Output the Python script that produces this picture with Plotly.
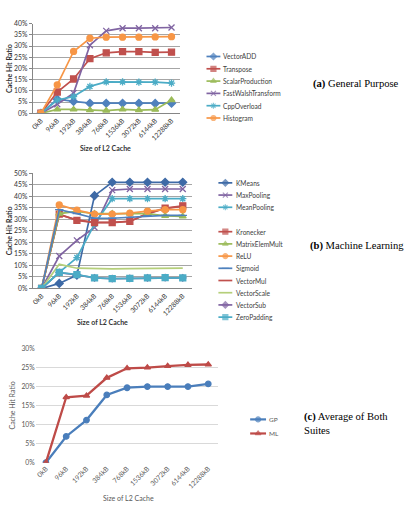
import plotly.graph_objects as go

W, H = 406, 510
def fx(x): return x / W
def fy(y): return 1 - y / H

# ---------------- data ----------------
cache_sizes = ["0kB", "96kB", "192kB", "384kB", "768kB", "1536kB", "3072kB", "6144kB", "12288kB"]

# (a) General purpose (%)
gp_names = ["VectorADD", "Transpose", "ScalarProduction", "FastWalshTransform", "CppOverload", "Histogram"]
vector_add = [0, 6.3, 5.3, 4.5, 4.5, 4.5, 4.5, 4.4, 4.5]
transpose = [0, 9.5, 15.3, 24.4, 27.0, 27.5, 27.5, 27.2, 27.3]
scalar_production = [0, 1.7, 1.7, 1.4, 1.2, 1.7, 1.4, 1.6, 5.9]
fast_walsh = [0, 4.0, 9.0, 30.4, 36.8, 38.0, 38.0, 38.0, 38.3]
cpp_overload = [0, 5.9, 7.5, 12.0, 14.0, 14.0, 13.9, 13.9, 13.5]
histogram = [0, 12.7, 27.6, 33.5, 34.0, 34.0, 34.0, 34.1, 34.2]
gp_values = [vector_add, transpose, scalar_production, fast_walsh, cpp_overload, histogram]

# (b) Machine learning (%)
ml_names = ["KMeans", "MaxPooling", "MeanPooling", "", "Kronecker", "MatrixElemMult", "ReLU",
            "Sigmoid", "VectorMul", "VectorScale", "VectorSub", "ZeroPadding"]
kmeans = [0, 2.2, 5.8, 40.3, 46.1, 46.1, 46.1, 46.1, 46.1]
max_pooling = [0, 14.1, 20.9, 26.5, 42.7, 43.2, 43.2, 43.2, 43.2]
mean_pooling = [0, 7.0, 13.4, 28.0, 39.0, 39.0, 39.0, 39.0, 39.0]
kronecker = [0, 32.3, 29.6, 28.6, 28.6, 29.1, 32.6, 34.9, 35.9]
matrix_elem_mult = [0, 32.5, 33.5, 32.5, 32.5, 32.5, 32.5, 31.5, 31.3]
relu = [0, 36.3, 34.0, 32.3, 32.3, 32.7, 33.6, 34.2, 34.2]
sigmoid = [0, 34.2, 32.5, 30.5, 30.5, 30.9, 31.6, 31.7, 31.7]
vector_mul = [0, 32.0, 29.8, 28.7, 28.7, 29.2, 32.4, 34.7, 35.7]
vector_scale = [0, 10.5, 8.8, 8.5, 8.5, 8.6, 8.7, 8.8, 8.8]
vector_sub = [0, 6.9, 5.9, 4.6, 4.3, 4.4, 4.6, 4.7, 4.6]
zero_padding = [0, 7.0, 6.0, 4.6, 4.3, 4.4, 4.6, 4.7, 4.6]
ml_values = [kmeans, max_pooling, mean_pooling, None, kronecker, matrix_elem_mult, relu,
             sigmoid, vector_mul, vector_scale, vector_sub, zero_padding]

# (c) Averages (%)
avg_names = ["GP", "ML"]
avg_gp = [0, 6.9, 11.2, 17.8, 19.7, 20.0, 20.0, 20.0, 20.7]
avg_ml = [0, 17.2, 17.6, 22.3, 24.8, 25.0, 25.4, 25.7, 25.8]
avg_values = [avg_gp, avg_ml]

# ---------------- styles ----------------
gp_colors = ["#4F81BD", "#C0504D", "#9BBB59", "#8064A2", "#4BACC6", "#F79646"]
gp_symbols = ["diamond", "square", "triangle-up", "x-thin-open", "asterisk-open", "circle"]

ml_colors = ["#3E6AA6", "#8064A2", "#4BACC6", None, "#C0504D", "#9BBB59", "#F79646",
             "#4F81BD", "#C0504D", "#B5CF7A", "#8064A2", "#4BACC6"]
ml_symbols = ["diamond", "x-thin-open", "asterisk-open", None, "square", "triangle-up", "circle",
              "line-ew-open", None, None, "diamond", "square"]
ml_draw_order = [10, 8, 0, 1, 2, 4, 5, 6, 7, 9, 11]

avg_colors = ["#4A7EBB", "#BE4B48"]
avg_symbols = ["circle", "triangle-up"]

fig = go.Figure()

def add_series(xa, ya, name, vals, color, symbol, width=1.7, msize=6):
    mode = "lines+markers" if symbol else "lines"
    m = dict(color=color, size=msize, symbol=symbol or "circle",
             line=dict(color=color, width=1.3))
    fig.add_trace(go.Scatter(x=cache_sizes, y=vals, name=name, mode=mode,
                             xaxis=xa, yaxis=ya, showlegend=False,
                             line=dict(color=color, width=width), marker=m))

for n, v, c, s in zip(gp_names, gp_values, gp_colors, gp_symbols):
    add_series("x", "y", n, v, c, s)
for i in ml_draw_order:
    add_series("x2", "y2", ml_names[i], ml_values[i], ml_colors[i], ml_symbols[i],
               msize=5 if i == 10 else 6)
for n, v, c, s in zip(avg_names, avg_values, avg_colors, avg_symbols):
    add_series("x3", "y3", n, v, c, s, width=2.3, msize=5.5)

# ---------------- custom legends (drawn on overlay pixel axes) ----------------
shapes = []
annotations = []

def draw_legend(names, colors, symbols, x0, y0, dy, keylen, textx, fsize, tcolor, lw):
    mx, my, mc, ms, msz = [], [], [], [], []
    for i, (n, c, s) in enumerate(zip(names, colors, symbols)):
        if not n:
            continue
        y = y0 + i * dy
        shapes.append(dict(type="line", xref="x4", yref="y4", x0=x0, x1=x0 + keylen,
                           y0=y, y1=y, line=dict(color=c, width=lw)))
        if s:
            mx.append(x0 + keylen / 2); my.append(y); mc.append(c); ms.append(s); msz.append(5)
        annotations.append(dict(xref="x4", yref="y4", x=textx, y=y, text=n, showarrow=False,
                                xanchor="left", yanchor="middle",
                                font=dict(family="Lato", size=fsize, color=tcolor)))
    fig.add_trace(go.Scatter(x=mx, y=my, mode="markers", xaxis="x4", yaxis="y4",
                             showlegend=False, hoverinfo="skip",
                             marker=dict(color=mc, symbol=ms, size=msz,
                                         line=dict(color=mc, width=1.2))))

draw_legend(gp_names, gp_colors, gp_symbols, 205, 52.3, 12.5, 14, 220, 6.6, "#404040", 1.7)
draw_legend(ml_names, ml_colors, ml_symbols, 217, 180.7, 12.4, 14, 233, 6.6, "#404040", 1.7)
draw_legend(avg_names, avg_colors, avg_symbols, 249, 421, 14.3, 16, 266, 6.5, "#595959", 2.2)

# ---------------- captions & axis titles ----------------
cap_font = dict(family="Liberation Serif", size=10.6, color="black")
annotations += [
    dict(xref="paper", yref="paper", x=fx(310), y=fy(80), text="<b>(a)</b> General Purpose",
         showarrow=False, xanchor="left", yanchor="middle", font=cap_font),
    dict(xref="paper", yref="paper", x=fx(307), y=fy(245), text="<b>(b)</b> Machine Learning",
         showarrow=False, xanchor="left", yanchor="middle", font=cap_font),
    dict(xref="paper", yref="paper", x=fx(301), y=fy(410), text="<b>(c)</b> Average of Both<br>Suites",
         showarrow=False, xanchor="left", yanchor="top", align="left", font=cap_font),
]
title_font_ab = dict(family="Lato", size=7, color="#333333")
title_font_c = dict(family="Lato", size=7, color="#595959")
annotations += [
    dict(xref="paper", yref="paper", x=fx(6), y=fy(64), text="<b>Cache Hit Ratio</b>", textangle=-90,
         showarrow=False, xanchor="center", yanchor="middle", font=title_font_ab),
    dict(xref="paper", yref="paper", x=fx(103), y=fy(145), text="<b>Size of L2 Cache</b>",
         showarrow=False, xanchor="center", yanchor="middle", font=title_font_ab),
    dict(xref="paper", yref="paper", x=fx(6), y=fy(229), text="<b>Cache Hit Ratio</b>", textangle=-90,
         showarrow=False, xanchor="center", yanchor="middle", font=title_font_ab),
    dict(xref="paper", yref="paper", x=fx(100), y=fy(322), text="<b>Size of L2 Cache</b>",
         showarrow=False, xanchor="center", yanchor="middle", font=title_font_ab),
    dict(xref="paper", yref="paper", x=fx(9), y=fy(407), text="Cache Hit Ratio", textangle=-90,
         showarrow=False, xanchor="center", yanchor="middle", font=title_font_c),
    dict(xref="paper", yref="paper", x=fx(126), y=fy(501), text="Size of L2 Cache",
         showarrow=False, xanchor="center", yanchor="middle", font=title_font_c),
]

tick_ab = dict(family="Lato", size=6.8, color="#333333")
tick_c = dict(family="Lato", size=6.8, color="#595959")
grid_ab = "#A6A6A6"
axis_ab = "#868686"

def xcat(domain, anchor, tf, showline, lc):
    return dict(domain=domain, anchor=anchor, type="category", range=[-0.5, 8.5],
                tickangle=-45, tickfont=tf, showgrid=False, zeroline=False,
                showline=showline, linecolor=lc, linewidth=1, ticks="", fixedrange=True)

def yval(domain, anchor, rng, tf, gc, showline, lc):
    return dict(domain=domain, anchor=anchor, range=rng, dtick=5, ticksuffix="%",
                tickfont=tf, showgrid=True, gridcolor=gc, gridwidth=1, zeroline=False,
                showline=showline, linecolor=lc, linewidth=1,
                ticks="outside" if showline else "", ticklen=3, tickcolor=lc, fixedrange=True)

fig.update_layout(
    width=W, height=H, margin=dict(l=0, r=0, t=0, b=0),
    paper_bgcolor="white", plot_bgcolor="rgba(0,0,0,0)",
    showlegend=False,
    xaxis=xcat([fx(30), fx(178)], "y", tick_ab, True, axis_ab),
    yaxis=yval([fy(110), fy(19)], "x", [0, 40], tick_ab, grid_ab, True, axis_ab),
    xaxis2=xcat([fx(30), fx(190)], "y2", tick_ab, True, axis_ab),
    yaxis2=yval([fy(288), fy(171)], "x2", [0, 50], tick_ab, grid_ab, True, axis_ab),
    xaxis3=xcat([fx(33), fx(217)], "y3", tick_c, False, "#D9D9D9"),
    yaxis3=yval([fy(465), fy(349)], "x3", [0, 30], tick_c, "#D9D9D9", False, "#D9D9D9"),
    xaxis4=dict(domain=[0, 1], anchor="y4", range=[0, W], visible=False, fixedrange=True),
    yaxis4=dict(domain=[0, 1], anchor="x4", range=[H, 0], visible=False, fixedrange=True),
    shapes=shapes, annotations=annotations,
)

fig.write_html("out.html")
